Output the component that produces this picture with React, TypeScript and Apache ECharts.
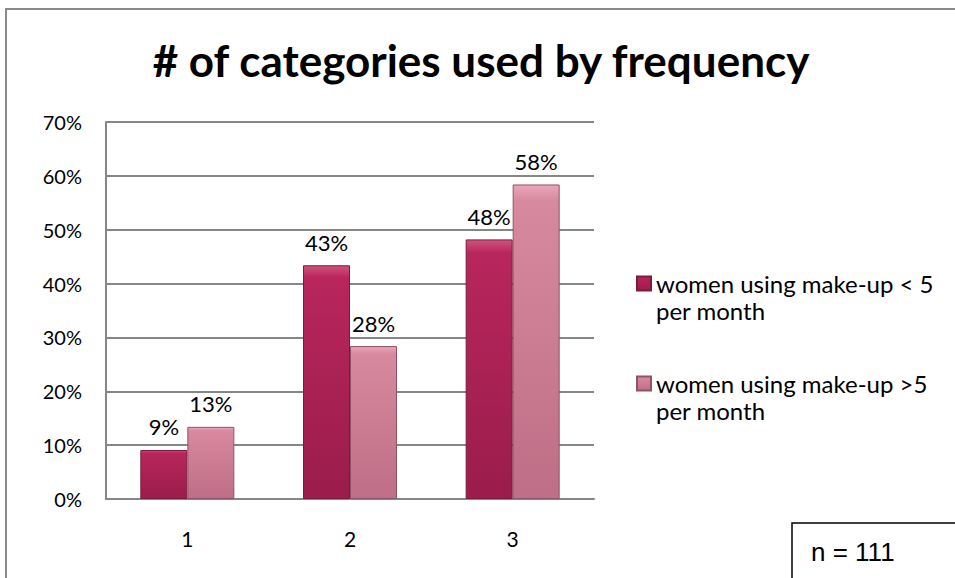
import React, { useEffect, useRef } from "react";
import * as echarts from "echarts";

const categories = ["1", "2", "3"];
const seriesNames = ["women using make-up < 5\nper month", "women using make-up >5\nper month"];
const lessThan5 = [9.1, 43.4, 48.2];
const moreThan5 = [13.4, 28.4, 58.4];
const yTicks = [0, 10, 20, 30, 40, 50, 60, 70];
const titleText = "# of categories used by frequency";
const noteText = "n = 111";

const FONT = "Lato";

function barColor(top: string, mid: string, bottom: string) {
  return new echarts.graphic.LinearGradient(0, 0, 0, 1, [
    { offset: 0, color: top },
    { offset: 0.05, color: mid },
    { offset: 0.95, color: bottom },
    { offset: 1, color: bottom },
  ]);
}

export default function App() {
  const ref = useRef<HTMLDivElement>(null);
  useEffect(() => {
    if (!ref.current) return;
    const chart = echarts.init(ref.current, undefined, { renderer: "svg" });
    const labelCfg = {
      show: true,
      position: "top" as const,
      distance: 12,
      formatter: (p: any) => Math.round(p.value) + "%",
      fontFamily: FONT,
      fontSize: 22,
      color: "#000",
    };
    chart.setOption({
      animation: false,
      backgroundColor: "#fff",
      title: {
        text: titleText,
        left: 476,
        textAlign: "center",
        top: 33,
        textStyle: { fontFamily: FONT, fontWeight: "bold", fontSize: 44, color: "#000" },
      },
      grid: { left: 106, right: 361, top: 122, bottom: 79 },
      xAxis: {
        type: "category",
        data: categories,
        axisLine: { lineStyle: { color: "#868686", width: 2 } },
        axisTick: { show: false },
        axisLabel: { fontFamily: FONT, fontSize: 21, color: "#000", margin: 29 },
      },
      yAxis: {
        type: "value",
        min: yTicks[0],
        max: yTicks[yTicks.length - 1],
        interval: 10,
        axisLine: { show: true, lineStyle: { color: "#868686", width: 2 } },
        axisTick: { show: false },
        splitLine: { lineStyle: { color: "#868686", width: 2 } },
        axisLabel: {
          fontFamily: FONT,
          fontSize: 20,
          color: "#000",
          margin: 24,
          formatter: (v: number) => v + "%",
        },
      },
      legend: {
        orient: "vertical",
        left: 631,
        top: 238,
        itemWidth: 14,
        itemHeight: 14,
        itemGap: 19,
        itemTextGap: 6,
        icon: "rect",
        formatter: (name: string) => "\n" + name,
        textStyle: {
          fontFamily: FONT,
          fontSize: 24,
          color: "#000",
          lineHeight: 27,
        },
      },
      series: [
        {
          name: seriesNames[0],
          type: "bar",
          data: lessThan5,
          barWidth: 47,
          barGap: "0%",
          itemStyle: {
            color: barColor("#d2527e", "#b8265c", "#9c1d4c"),
            borderColor: "#7a1a3c",
            borderWidth: 1,
          },
          label: labelCfg,
        },
        {
          name: seriesNames[1],
          type: "bar",
          data: moreThan5,
          barWidth: 47,
          barGap: "0%",
          itemStyle: {
            color: barColor("#eaa6bb", "#d7899f", "#bf7088"),
            borderColor: "#8e5465",
            borderWidth: 1,
          },
          label: labelCfg,
        },
      ],
      graphic: [
        {
          type: "rect",
          shape: { x: 6, y: 9, width: 1000, height: 700 },
          style: { fill: "none", stroke: "#8a8a8a", lineWidth: 2 },
          silent: true,
        },
        {
          type: "rect",
          shape: { x: 792, y: 523, width: 300, height: 100 },
          style: { fill: "#fff", stroke: "#000", lineWidth: 1.5 },
          silent: true,
        },
        {
          type: "text",
          x: 811,
          y: 552,
          style: {
            text: noteText,
            fontFamily: "Liberation Sans",
            fontSize: 26,
            fill: "#000",
            verticalAlign: "middle",
          },
          silent: true,
        },
      ],
    });
    return () => chart.dispose();
  }, []);
  return (
    <div
      ref={ref}
      style={{ position: "fixed", left: 0, top: 0, width: 955, height: 578 }}
    />
  );
}
